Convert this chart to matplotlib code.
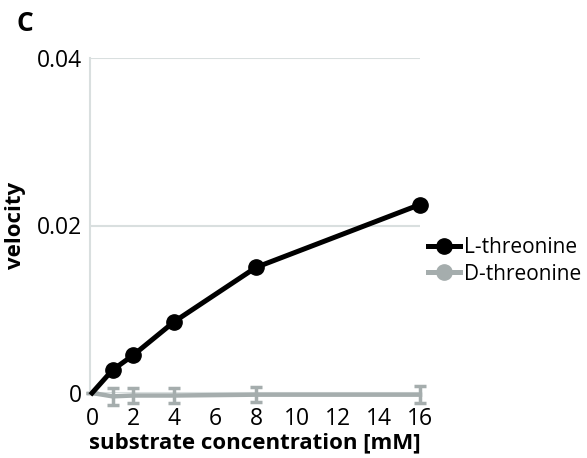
import matplotlib.pyplot as plt
from matplotlib.lines import Line2D

plt.rcParams['font.family'] = ['Open Sans', 'DejaVu Sans']

# substrate concentration [mM]
conc = [0, 1, 2, 4, 8, 16]

# velocity values
l_thr = [0.0, 0.00275, 0.0045, 0.0085, 0.0150, 0.0225]
d_thr = [0.0, -0.0004, -0.0003, -0.0003, -0.0002, -0.0002]
d_err = [0.0, 0.0010, 0.0009, 0.0009, 0.0009, 0.0010]

black = '#000000'
grey = '#a5adad'
grid_col = '#d9dfdf'

fig = plt.figure(figsize=(5.87, 4.58), dpi=100)
ax = fig.add_axes([90 / 587, 1 - 393 / 458, 330 / 587, 335 / 458])

ax.errorbar(conc, d_thr, yerr=d_err, color=grey, lw=3.2, elinewidth=2.5,
            capsize=4, capthick=2.5, clip_on=False, zorder=2)
ax.plot(conc[1:], l_thr[1:], 'o', color=black, ms=11, clip_on=False, zorder=4)
ax.plot(conc, l_thr, '-', color=black, lw=3.6, clip_on=False, zorder=3)

ax.set_xlim(-0.1, 16)
ax.set_ylim(0, 0.04)
ax.set_xticks(range(0, 17, 2))
ax.set_yticks([0, 0.02, 0.04])
ax.set_yticklabels(['0', '0.02', '0.04'])
ax.yaxis.grid(True, color=grid_col, lw=1.5)
ax.set_axisbelow(True)

for s in ['top', 'right']:
    ax.spines[s].set_visible(False)
ax.spines['left'].set_color(grid_col)
ax.spines['left'].set_linewidth(1.5)
ax.spines['bottom'].set_visible(False)
ax.tick_params(axis='both', length=0, labelsize=16.5)
ax.tick_params(axis='x', pad=10)
ax.tick_params(axis='y', pad=6)

ax.set_xlabel('substrate concentration [mM]', fontsize=16, fontweight='bold', labelpad=1)
ax.set_ylabel('velocity', fontsize=16, fontweight='bold')
ax.yaxis.set_label_coords(-64 / 330, 0.5)

fig.text(16 / 587, 1 - 31 / 458, 'C', fontsize=19, fontweight='bold')

handles = [Line2D([], [], color=black, lw=3.6, marker='o', ms=11),
           Line2D([], [], color=grey, lw=3.6, marker='o', ms=11)]
fig.legend(handles, ['L-threonine', 'D-threonine'], loc='center left',
           bbox_to_anchor=(420 / 587, 1 - 261 / 458), frameon=False,
           fontsize=15, handlelength=1.5, handletextpad=0.2, labelspacing=0.25,
           borderaxespad=0)

fig.savefig('out.png', dpi=100)
